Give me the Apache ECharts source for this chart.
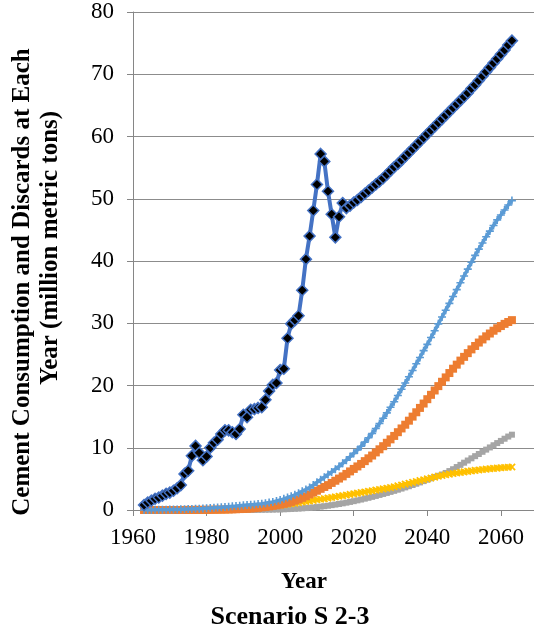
<!DOCTYPE html>
<html>
<head>
<meta charset="utf-8">
<script src="https://cdn.jsdelivr.net/npm/echarts@6/dist/echarts.min.js"></script>
<style>
  html, body { margin: 0; padding: 0; background: #fff; }
  #chart { width: 534px; height: 632px; }
</style>
</head>
<body>
<div id="chart"></div>
<script>
// Annual series, one value per year starting at firstYear (1963 ... 2063)
const firstYear = 1963;

// Cement consumption (historical through 2017, projected afterwards)
const consumption = [
  0.8, 1.2, 1.5, 1.8, 2.0, 2.3, 2.6, 2.8, 3.1, 3.5,            // 1963-1972
  4.0, 5.8, 6.3, 8.7, 10.3, 9.2, 8.0, 8.6, 10.0, 10.8,         // 1973-1982
  11.3, 12.2, 12.8, 12.8, 12.5, 12.2, 13.0, 15.3, 14.9, 16.1,  // 1983-1992
  16.2, 16.4, 16.5, 17.7, 19.1, 20.1, 20.4, 22.5, 22.7, 27.6,  // 1993-2002
  29.9, 30.5, 31.2, 35.3, 40.3, 44.0, 48.1, 52.3, 57.2, 56.0,  // 2003-2012
  51.2, 47.5, 43.8, 47.1, 49.3, 48.5, 48.9, 49.4, 49.8, 50.3,  // 2013-2022
  50.8, 51.3, 51.8, 52.3, 52.8, 53.3, 53.9, 54.5, 55.1, 55.6,  // 2023-2032
  56.2, 56.8, 57.4, 58.0, 58.6, 59.2, 59.8, 60.4, 61.0, 61.6,  // 2033-2042
  62.2, 62.8, 63.4, 64.0, 64.6, 65.2, 65.8, 66.4, 67.0, 67.7,  // 2043-2052
  68.3, 69.0, 69.7, 70.4, 71.1, 71.8, 72.5, 73.2, 73.9, 74.7,  // 2053-2062
  75.4                                                         // 2063
];

// Discards, light blue series
const discardsBlue = [
  0.00, 0.01, 0.02, 0.03, 0.04, 0.05, 0.06, 0.07, 0.08, 0.10,  // 1963-1972
  0.11, 0.13, 0.15, 0.17, 0.20, 0.22, 0.25, 0.30, 0.33, 0.36,  // 1973-1982
  0.40, 0.44, 0.50, 0.54, 0.59, 0.64, 0.70, 0.75, 0.80, 0.85,  // 1983-1992
  0.90, 0.95, 1.00, 1.10, 1.20, 1.30, 1.45, 1.60, 1.80, 2.00,  // 1993-2002
  2.20, 2.45, 2.70, 3.00, 3.30, 3.60, 4.00, 4.45, 4.85, 5.25,  // 2003-2012
  5.70, 6.10, 6.55, 7.00, 7.50, 8.00, 8.55, 9.10, 9.65, 10.25, // 2013-2022
  10.9, 11.6, 12.3, 13.1, 13.9, 14.75, 15.6, 16.5, 17.4, 18.4, // 2023-2032
  19.4, 20.4, 21.4, 22.4, 23.5, 24.5, 25.6, 26.6, 27.7, 28.8,  // 2033-2042
  29.9, 31.0, 32.1, 33.2, 34.3, 35.4, 36.5, 37.6, 38.7, 39.8,  // 2043-2052
  40.9, 41.9, 42.9, 43.9, 44.8, 45.7, 46.6, 47.4, 48.2, 49.0,  // 2053-2062
  49.7                                                         // 2063
];

// Discards, orange series
const discardsOrange = [
  0, 0, 0, 0, 0, 0, 0, 0, 0, 0,                                // 1963-1972
  0, 0.01, 0.01, 0.01, 0.02, 0.02, 0.03, 0.03, 0.04, 0.05,     // 1973-1982
  0.06, 0.07, 0.08, 0.09, 0.11, 0.13, 0.15, 0.18, 0.21, 0.25,  // 1983-1992
  0.30, 0.36, 0.43, 0.50, 0.58, 0.67, 0.77, 0.88, 1.00, 1.15,  // 1993-2002
  1.30, 1.50, 1.70, 1.95, 2.20, 2.50, 2.80, 3.10, 3.40, 3.70,  // 2003-2012
  4.00, 4.35, 4.70, 5.05, 5.40, 5.80, 6.20, 6.60, 7.00, 7.40,  // 2013-2022
  7.85, 8.30, 8.75, 9.25, 9.75, 10.25, 10.8, 11.35, 11.9, 12.5, // 2023-2032
  13.1, 13.7, 14.35, 15.0, 15.7, 16.4, 17.1, 17.8, 18.5, 19.2, // 2033-2042
  19.9, 20.6, 21.3, 22.0, 22.7, 23.35, 24.0, 24.6, 25.2, 25.8, // 2043-2052
  26.35, 26.9, 27.4, 27.9, 28.35, 28.8, 29.2, 29.55, 29.9, 30.2, // 2053-2062
  30.5                                                         // 2063
];

// Discards, grey series
const discardsGrey = [
  0, 0, 0, 0, 0, 0, 0, 0, 0, 0,                                // 1963-1972
  0, 0, 0, 0, 0, 0, 0, 0, 0, 0,                                // 1973-1982
  0, 0, 0, 0, 0, 0, 0, 0.01, 0.01, 0.02,                       // 1983-1992
  0.02, 0.03, 0.04, 0.05, 0.06, 0.07, 0.09, 0.10, 0.12, 0.14,  // 1993-2002
  0.17, 0.20, 0.23, 0.27, 0.31, 0.36, 0.41, 0.47, 0.54, 0.61,  // 2003-2012
  0.69, 0.78, 0.87, 0.97, 1.07, 1.18, 1.30, 1.42, 1.55, 1.68,  // 2013-2022
  1.82, 1.96, 2.11, 2.26, 2.42, 2.58, 2.74, 2.91, 3.08, 3.26,  // 2023-2032
  3.44, 3.63, 3.82, 4.02, 4.22, 4.43, 4.64, 4.86, 5.08, 5.31,  // 2033-2042
  5.50, 5.70, 5.95, 6.25, 6.55, 6.90, 7.25, 7.60, 7.95, 8.30,  // 2043-2052
  8.65, 9.00, 9.35, 9.70, 10.05, 10.4, 10.75, 11.1, 11.45, 11.8, // 2053-2062
  12.1                                                         // 2063
];

// Discards, yellow series
const discardsYellow = [
  0, 0, 0, 0, 0, 0, 0, 0, 0, 0,                                // 1963-1972
  0, 0, 0, 0, 0, 0, 0, 0, 0, 0,                                // 1973-1982
  0, 0.02, 0.04, 0.06, 0.09, 0.12, 0.15, 0.19, 0.23, 0.28,     // 1983-1992
  0.33, 0.38, 0.44, 0.50, 0.56, 0.63, 0.70, 0.77, 0.85, 0.93,  // 1993-2002
  1.01, 1.10, 1.19, 1.28, 1.37, 1.46, 1.55, 1.64, 1.73, 1.82,  // 2003-2012
  1.91, 2.00, 2.10, 2.20, 2.30, 2.40, 2.50, 2.60, 2.70, 2.80,  // 2013-2022
  2.90, 3.00, 3.10, 3.20, 3.30, 3.40, 3.50, 3.60, 3.74, 3.88,  // 2023-2032
  4.02, 4.16, 4.30, 4.44, 4.58, 4.72, 4.86, 5.00, 5.14, 5.28,  // 2033-2042
  5.42, 5.55, 5.66, 5.76, 5.86, 5.95, 6.04, 6.12, 6.20, 6.28,  // 2043-2052
  6.36, 6.43, 6.50, 6.56, 6.62, 6.68, 6.73, 6.78, 6.82, 6.86,  // 2053-2062
  6.90                                                         // 2063
];

// Axis tick values
const xTicks = [1960, 1980, 2000, 2020, 2040, 2060];
const yTicks = [0, 10, 20, 30, 40, 50, 60, 70, 80];

const serif = "'Liberation Serif', 'Times New Roman', serif";
const plusPath = 'path://M4,0h2v4h4v2h-4v4h-2v-4h-4v-2h4z';

function pairs(values) {
  return values.map((v, i) => [firstYear + i, v]);
}

function lineSeries(name, values, color, width, symbol, size, z, extra) {
  return Object.assign({
    name: name,
    type: 'line',
    data: pairs(values),
    z: z,
    showAllSymbol: true,
    symbol: symbol,
    symbolSize: size,
    lineStyle: { color: color, width: width },
    itemStyle: { color: color },
    emphasis: { disabled: true }
  }, extra || {});
}

const chart = echarts.init(document.getElementById('chart'), null, { renderer: 'canvas' });

chart.setOption({
  animation: false,
  backgroundColor: '#ffffff',
  grid: { left: 133, right: 0, top: 12, bottom: 122, containLabel: false },
  xAxis: {
    type: 'value',
    min: xTicks[0],
    max: 2069,
    interval: 20,
    axisLine: { show: true, onZero: false, lineStyle: { color: '#868686', width: 1 } },
    axisTick: { show: true, length: 6, lineStyle: { color: '#868686' },
      customValues: xTicks },
    axisLabel: { color: '#000', fontFamily: serif, fontSize: 23, margin: 16,
      customValues: xTicks, formatter: v => String(v) },
    splitLine: { show: false }
  },
  yAxis: {
    type: 'value',
    min: yTicks[0],
    max: yTicks[yTicks.length - 1],
    interval: 10,
    axisLine: { show: true, lineStyle: { color: '#868686', width: 1 } },
    axisTick: { show: true, length: 6, lineStyle: { color: '#868686' } },
    axisLabel: { color: '#000', fontFamily: serif, fontSize: 23, margin: 19 },
    splitLine: { show: true, lineStyle: { color: '#8c8c8c', width: 1 } }
  },
  series: [
    lineSeries('Discards (grey)', discardsGrey, '#A5A5A5', 4, 'rect', 6, 2),
    lineSeries('Discards (yellow)', discardsYellow, '#FFC000', 4, plusPath, 9, 3,
      { symbolRotate: 45 }),
    lineSeries('Discards (orange)', discardsOrange, '#ED7D31', 4, 'rect', 8, 4),
    lineSeries('Discards (light blue)', discardsBlue, '#5B9BD5', 3.5, plusPath, 8, 5),
    lineSeries('Consumption', consumption, '#4472C4', 4, 'diamond', 11, 6, {
      itemStyle: { color: '#000000', borderColor: '#4472C4', borderWidth: 1.5 }
    })
  ],
  graphic: [
    {
      type: 'text', x: 23, y: 282, rotation: Math.PI / 2,
      style: { text: 'Cement Consumption and Discards at Each',
        font: 'bold 25px ' + serif, fill: '#000',
        align: 'center', verticalAlign: 'middle',
        textAlign: 'center', textVerticalAlign: 'middle' }
    },
    {
      type: 'text', x: 51, y: 248, rotation: Math.PI / 2,
      style: { text: 'Year (million metric tons)',
        font: 'bold 25px ' + serif, fill: '#000',
        align: 'center', verticalAlign: 'middle',
        textAlign: 'center', textVerticalAlign: 'middle' }
    },
    {
      type: 'text', x: 304, y: 582,
      style: { text: 'Year', font: 'bold 23px ' + serif, fill: '#000',
        align: 'center', verticalAlign: 'middle',
        textAlign: 'center', textVerticalAlign: 'middle' }
    },
    {
      type: 'text', x: 290, y: 617,
      style: { text: 'Scenario S 2-3', font: 'bold 26px ' + serif, fill: '#000',
        align: 'center', verticalAlign: 'middle',
        textAlign: 'center', textVerticalAlign: 'middle' }
    }
  ]
});
</script>
</body>
</html>
